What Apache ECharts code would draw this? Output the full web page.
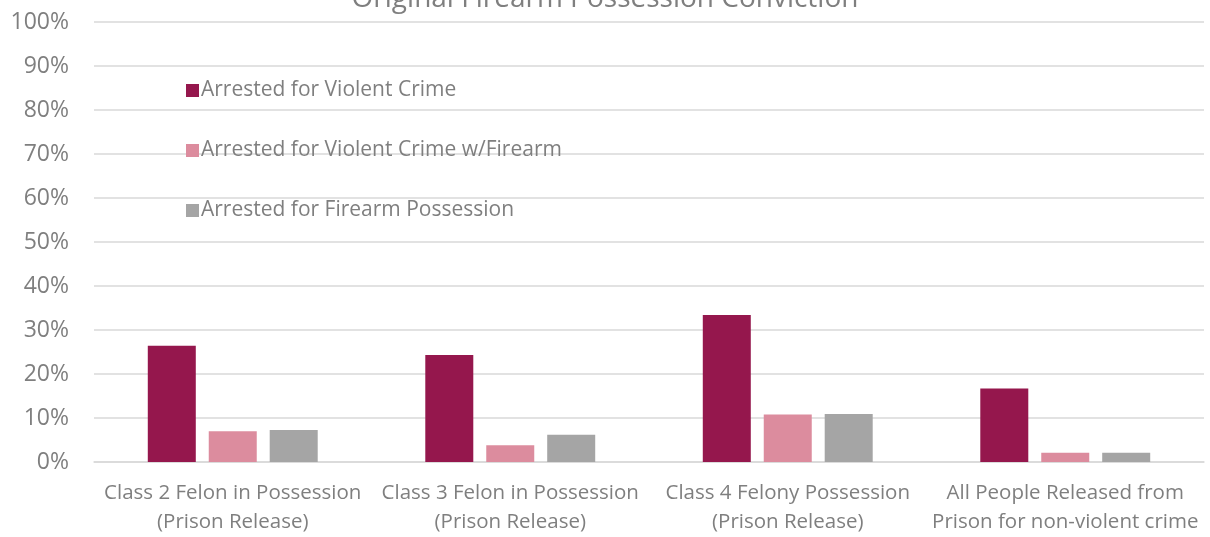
<!DOCTYPE html>
<html><head><meta charset="utf-8">
<script src="https://cdn.jsdelivr.net/npm/echarts@6/dist/echarts.min.js"></script>
<style>html,body{margin:0;padding:0;background:#fff}#c{width:1210px;height:537px}</style>
</head><body><div id="c"></div>
<script>
const categories = [
  "Class 2 Felon in Possession\n(Prison Release)",
  "Class 3 Felon in Possession\n(Prison Release)",
  "Class 4 Felony Possession\n(Prison Release)",
  "All People Released from\nPrison for non-violent crime"
];
const seriesNames = ["Arrested for Violent Crime", "Arrested for Violent Crime w/Firearm", "Arrested for Firearm Possession"];
const violent = [26.4, 24.3, 33.4, 16.7];
const violentFirearm = [7.0, 3.8, 10.8, 2.1];
const possession = [7.3, 6.2, 10.9, 2.1];
const colors = ["#95174d", "#dc8c9e", "#a5a5a5"];
const title = "Original Firearm Possession Conviction";

const font = "'Open Sans', sans-serif";
const chart = echarts.init(document.getElementById('c'));
const data = [violent, violentFirearm, possession];
chart.setOption({
  animation: false,
  title: { text: title, left: 'center', top: -20,
    textStyle: { color: '#7f7f7f', fontSize: 28, fontWeight: 'normal', fontFamily: font } },
  legend: {
    orient: 'vertical', left: 181, top: 75, itemGap: 39, itemWidth: 13, itemHeight: 13,
    icon: 'rect', itemStyle: {borderWidth: 0},
    textStyle: { color: '#7f7f7f', fontSize: 21, fontFamily: font, padding: [0,0,0,-3] },
    data: seriesNames
  },
  grid: { left: 94, right: 6, top: 22, bottom: 72, containLabel: false },
  xAxis: {
    type: 'category', data: categories,
    axisLine: { lineStyle: { color: '#d9d9d9', width: 1.5 } },
    axisTick: { show: false },
    axisLabel: { color: '#7f7f7f', fontSize: 20.5, fontFamily: font, lineHeight: 29, margin: 17, interval: 0 }
  },
  yAxis: {
    type: 'value', min: 0, max: 100, interval: 10,
    axisLabel: { formatter: '{value}%', color: '#7f7f7f', fontSize: 23, fontFamily: font, margin: 25 },
    axisLine: { show: false }, axisTick: { show: false },
    splitLine: { lineStyle: { color: '#d9d9d9', width: 1.5 } }
  },
  series: seriesNames.map((n, i) => ({
    name: n, type: 'bar', data: data[i], barWidth: 48, barGap: '27%',
    itemStyle: { color: colors[i] }
  }))
});
</script></body></html>
